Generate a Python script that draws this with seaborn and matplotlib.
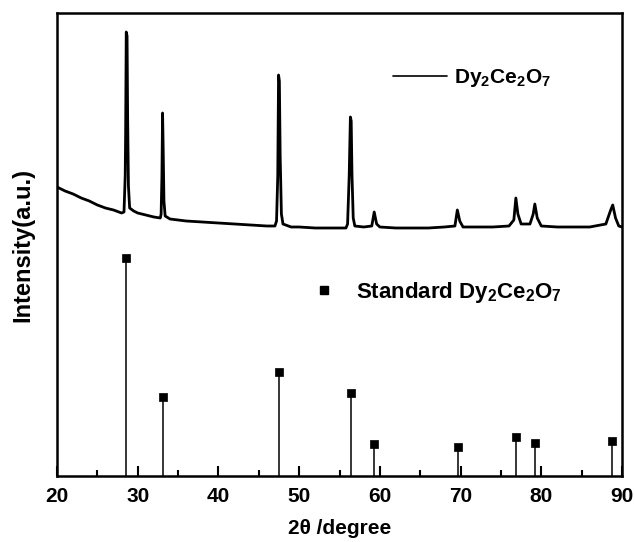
import numpy as np
import pandas as pd
import matplotlib
matplotlib.use("Agg")
import matplotlib.pyplot as plt
import seaborn as sns
from matplotlib.lines import Line2D

# measured pattern (2theta, intensity in arbitrary units)
two_theta = [20, 21, 22, 23, 24, 25, 26, 27, 28, 28.3, 28.45, 28.5, 28.58, 28.68, 28.75, 28.85, 29.0,
             29.5, 30, 31, 32, 32.8, 32.9, 33.0, 33.08, 33.15, 33.25, 33.4,
             34, 36, 38, 40, 42, 44, 46, 47.0, 47.2, 47.35, 47.45, 47.55, 47.65, 47.8, 48.0,
             49, 50, 52, 54, 55.8, 56.0, 56.2, 56.35, 56.45, 56.55, 56.7, 56.9,
             58, 59.0, 59.3, 59.6, 60, 62, 64, 66, 68, 69.3, 69.6, 69.9, 70.3,
             72, 74, 76, 76.6, 76.85, 77.1, 77.5, 78.6, 79.0, 79.2, 79.5, 80.0,
             82, 84, 86, 88.0, 88.6, 88.85, 89.2, 89.6, 90]
intensity = [289, 285, 282, 278, 275, 271, 268, 266, 263, 264, 300, 340, 444, 440, 360, 290, 268,
             265, 263, 261, 259, 258, 262, 300, 363, 330, 275, 260,
             257, 255, 254, 253, 252, 251, 250, 250, 255, 300, 401, 395, 320, 262, 252,
             249, 249, 248, 248, 248, 252, 300, 359, 355, 300, 258, 250,
             249, 250, 264, 252, 249, 248, 248, 248, 249, 250, 266, 255, 249,
             249, 249, 250, 256, 278, 262, 252, 252, 262, 272, 258, 250,
             249, 249, 249, 252, 266, 271, 258, 250, 249]

# standard reference lines
std_theta = [28.6, 33.1, 47.5, 56.4, 59.3, 69.7, 76.9, 79.2, 88.8]
std_height = [218, 79, 104, 83, 32, 29, 39, 33, 35]

meas = pd.DataFrame({"two_theta": two_theta, "intensity": intensity})
std = pd.DataFrame({"two_theta": std_theta, "height": std_height})

sns.set_style("ticks")
plt.rcParams["font.family"] = ["Liberation Sans", "DejaVu Sans"]
plt.rcParams["font.weight"] = "bold"
plt.rcParams["mathtext.fontset"] = "custom"
plt.rcParams["mathtext.rm"] = "Liberation Sans:bold"
plt.rcParams["mathtext.it"] = "Liberation Sans:bold"
plt.rcParams["mathtext.bf"] = "Liberation Sans:bold"
for k in ["axes.edgecolor", "text.color", "axes.labelcolor", "xtick.color", "ytick.color"]:
    plt.rcParams[k] = "black"

fig = plt.figure(figsize=(6.35, 5.42), dpi=100)
ax = fig.add_axes([57 / 635, 66 / 542, 565 / 635, 463 / 542])

sns.lineplot(data=meas, x="two_theta", y="intensity", ax=ax, color="black", lw=2.0)
ax.vlines(std["two_theta"], 0, std["height"], color="black", lw=1.1)
sns.scatterplot(data=std, x="two_theta", y="height", ax=ax, marker="s", s=40,
                color="black", edgecolor="black", zorder=3)

ax.set_xlim(20, 90)
ax.set_ylim(0, 463)
ax.set_xticks(range(20, 91, 10))
ax.set_xticks(range(25, 90, 10), minor=True)
ax.set_yticks([])
ax.tick_params(axis="x", which="major", direction="in", length=7, width=1.5,
               labelsize=15, pad=8)
ax.tick_params(axis="x", which="minor", direction="in", length=4, width=1.5)
for lab in ax.get_xticklabels():
    lab.set_fontweight("bold")
for s in ax.spines.values():
    s.set_linewidth(1.8)

ax.set_xlabel("2θ /degree", fontsize=15, fontweight="bold", labelpad=9)
ax.set_ylabel("Intensity(a.u.)", fontsize=17, fontweight="bold", labelpad=16)

h1 = Line2D([], [], color="black", lw=1.2)
leg1 = ax.legend([h1], [r"Dy$_2$Ce$_2$O$_7$"], loc="center left",
                 bbox_to_anchor=(0.595, 0.86), frameon=False, borderpad=0,
                 borderaxespad=0, handlelength=2.6, handletextpad=0.3,
                 prop={"size": 15, "weight": "bold"})
ax.add_artist(leg1)
h2 = Line2D([], [], color="black", lw=0, marker="s", markersize=6)
ax.legend([h2], [r"Standard Dy$_2$Ce$_2$O$_7$"], loc="center left",
          bbox_to_anchor=(0.453, 0.397), frameon=False, borderpad=0,
          borderaxespad=0, handlelength=1.0, handletextpad=0.95,
          prop={"size": 16, "weight": "bold"})

fig.savefig("out.png", dpi=100)
